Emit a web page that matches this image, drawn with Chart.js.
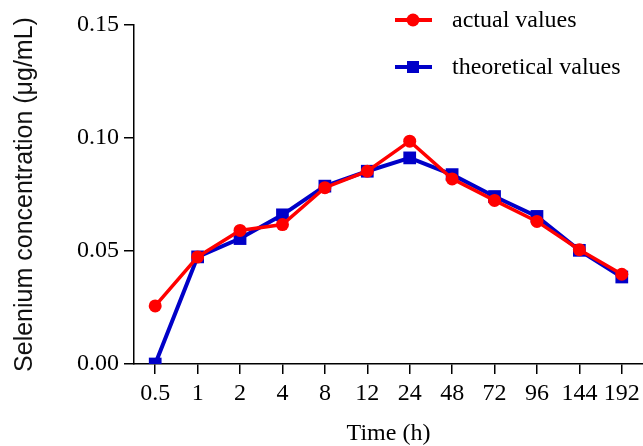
<!DOCTYPE html>
<html>
<head>
<meta charset="utf-8">
<script src="https://cdn.jsdelivr.net/npm/chart.js@4/dist/chart.umd.min.js"></script>
<style>
  body { margin: 0; background: #fff; }
  canvas { display: block; }
</style>
</head>
<body>
<canvas id="grafico" width="643" height="446"></canvas>
<script>
// ================= DADOS =================
const tempos = ["0.5", "1", "2", "4", "8", "12", "24", "48", "72", "96", "144", "192"];
const valoresReais = [0.0257, 0.0474, 0.0591, 0.0617, 0.0780, 0.0853, 0.0986, 0.0819, 0.0724, 0.0631, 0.0506, 0.0397];
const valoresTeoricos = [0.0000, 0.0474, 0.0555, 0.0660, 0.0787, 0.0853, 0.0912, 0.0838, 0.0741, 0.0653, 0.0503, 0.0385];
const ticksY = [0, 0.05, 0.10, 0.15];

const serif = "'Liberation Serif', 'Times New Roman', serif";
const sans = "'Liberation Sans', Arial, sans-serif";

// ================= LEGENDA (desenhada a mao) =================
const legendaPlugin = {
  id: "legendaManual",
  afterDraw(chart) {
    const ctx = chart.ctx;
    const linhas = [20, 67];
    chart.data.datasets.forEach((ds, i) => {
      const y = linhas[i];
      ctx.save();
      ctx.strokeStyle = ds.borderColor;
      ctx.lineWidth = 4;
      ctx.beginPath();
      ctx.moveTo(395, y);
      ctx.lineTo(432, y);
      ctx.stroke();
      ctx.fillStyle = ds.borderColor;
      if (ds.pointStyle === "rect") {
        ctx.fillRect(413 - 6, y - 6, 12, 12);
      } else {
        ctx.beginPath();
        ctx.arc(413, y, 6.5, 0, Math.PI * 2);
        ctx.fill();
      }
      ctx.fillStyle = "#000";
      ctx.font = "24px " + serif;
      ctx.textBaseline = "middle";
      ctx.textAlign = "left";
      ctx.fillText(ds.label, 452, y + 1);
      ctx.restore();
    });
  }
};

new Chart(document.getElementById("grafico"), {
  type: "line",
  data: {
    labels: tempos,
    datasets: [
      {
        label: "actual values",
        data: valoresReais,
        borderColor: "rgb(255,0,0)",
        backgroundColor: "rgb(255,0,0)",
        borderWidth: 3.5,
        pointStyle: "circle",
        pointRadius: 6.5,
        pointBorderWidth: 0,
        tension: 0
      },
      {
        label: "theoretical values",
        data: valoresTeoricos,
        borderColor: "rgb(0,0,200)",
        backgroundColor: "rgb(0,0,200)",
        borderWidth: 4,
        pointStyle: "rect",
        pointRadius: 9,
        pointBorderWidth: 0,
        tension: 0
      }
    ]
  },
  options: {
    responsive: false,
    animation: false,
    layout: { autoPadding: false, padding: { top: 25, right: 0, bottom: 0, left: 0 } },
    plugins: {
      legend: { display: false },
      tooltip: { enabled: false }
    },
    scales: {
      x: {
        type: "category",
        offset: true,
        grid: { drawOnChartArea: false, offset: false, drawTicks: true, tickLength: 10, color: "#000", lineWidth: 1.5 },
        border: { color: "#000", width: 1.5 },
        ticks: { color: "#000", padding: 5, font: { family: serif, size: 24 }, maxRotation: 0, autoSkip: false },
        title: { display: true, text: "Time (h)", color: "#000", font: { family: serif, size: 24, lineHeight: 1 }, padding: { top: 0, bottom: 0 } },
        afterFit(scale) {
          scale.height = 82;
          scale.paddingLeft = 0;
          scale.paddingRight = 0;
        }
      },
      y: {
        min: 0,
        max: 0.15,
        afterBuildTicks(scale) { scale.ticks = ticksY.map(v => ({ value: v })); },
        grid: { drawOnChartArea: false, drawTicks: true, tickLength: 10, color: "#000", lineWidth: 1.5 },
        border: { color: "#000", width: 1.5 },
        ticks: { color: "#000", padding: 5, font: { family: serif, size: 24 }, callback: v => Number(v).toFixed(2) },
        title: { display: true, text: "Selenium concentration (μg/mL)", color: "#111", font: { family: sans, size: 25 }, padding: { top: 10, bottom: 0 } },
        afterFit(scale) { scale.width = 134; }
      }
    }
  },
  plugins: [legendaPlugin]
});
</script>
</body>
</html>
